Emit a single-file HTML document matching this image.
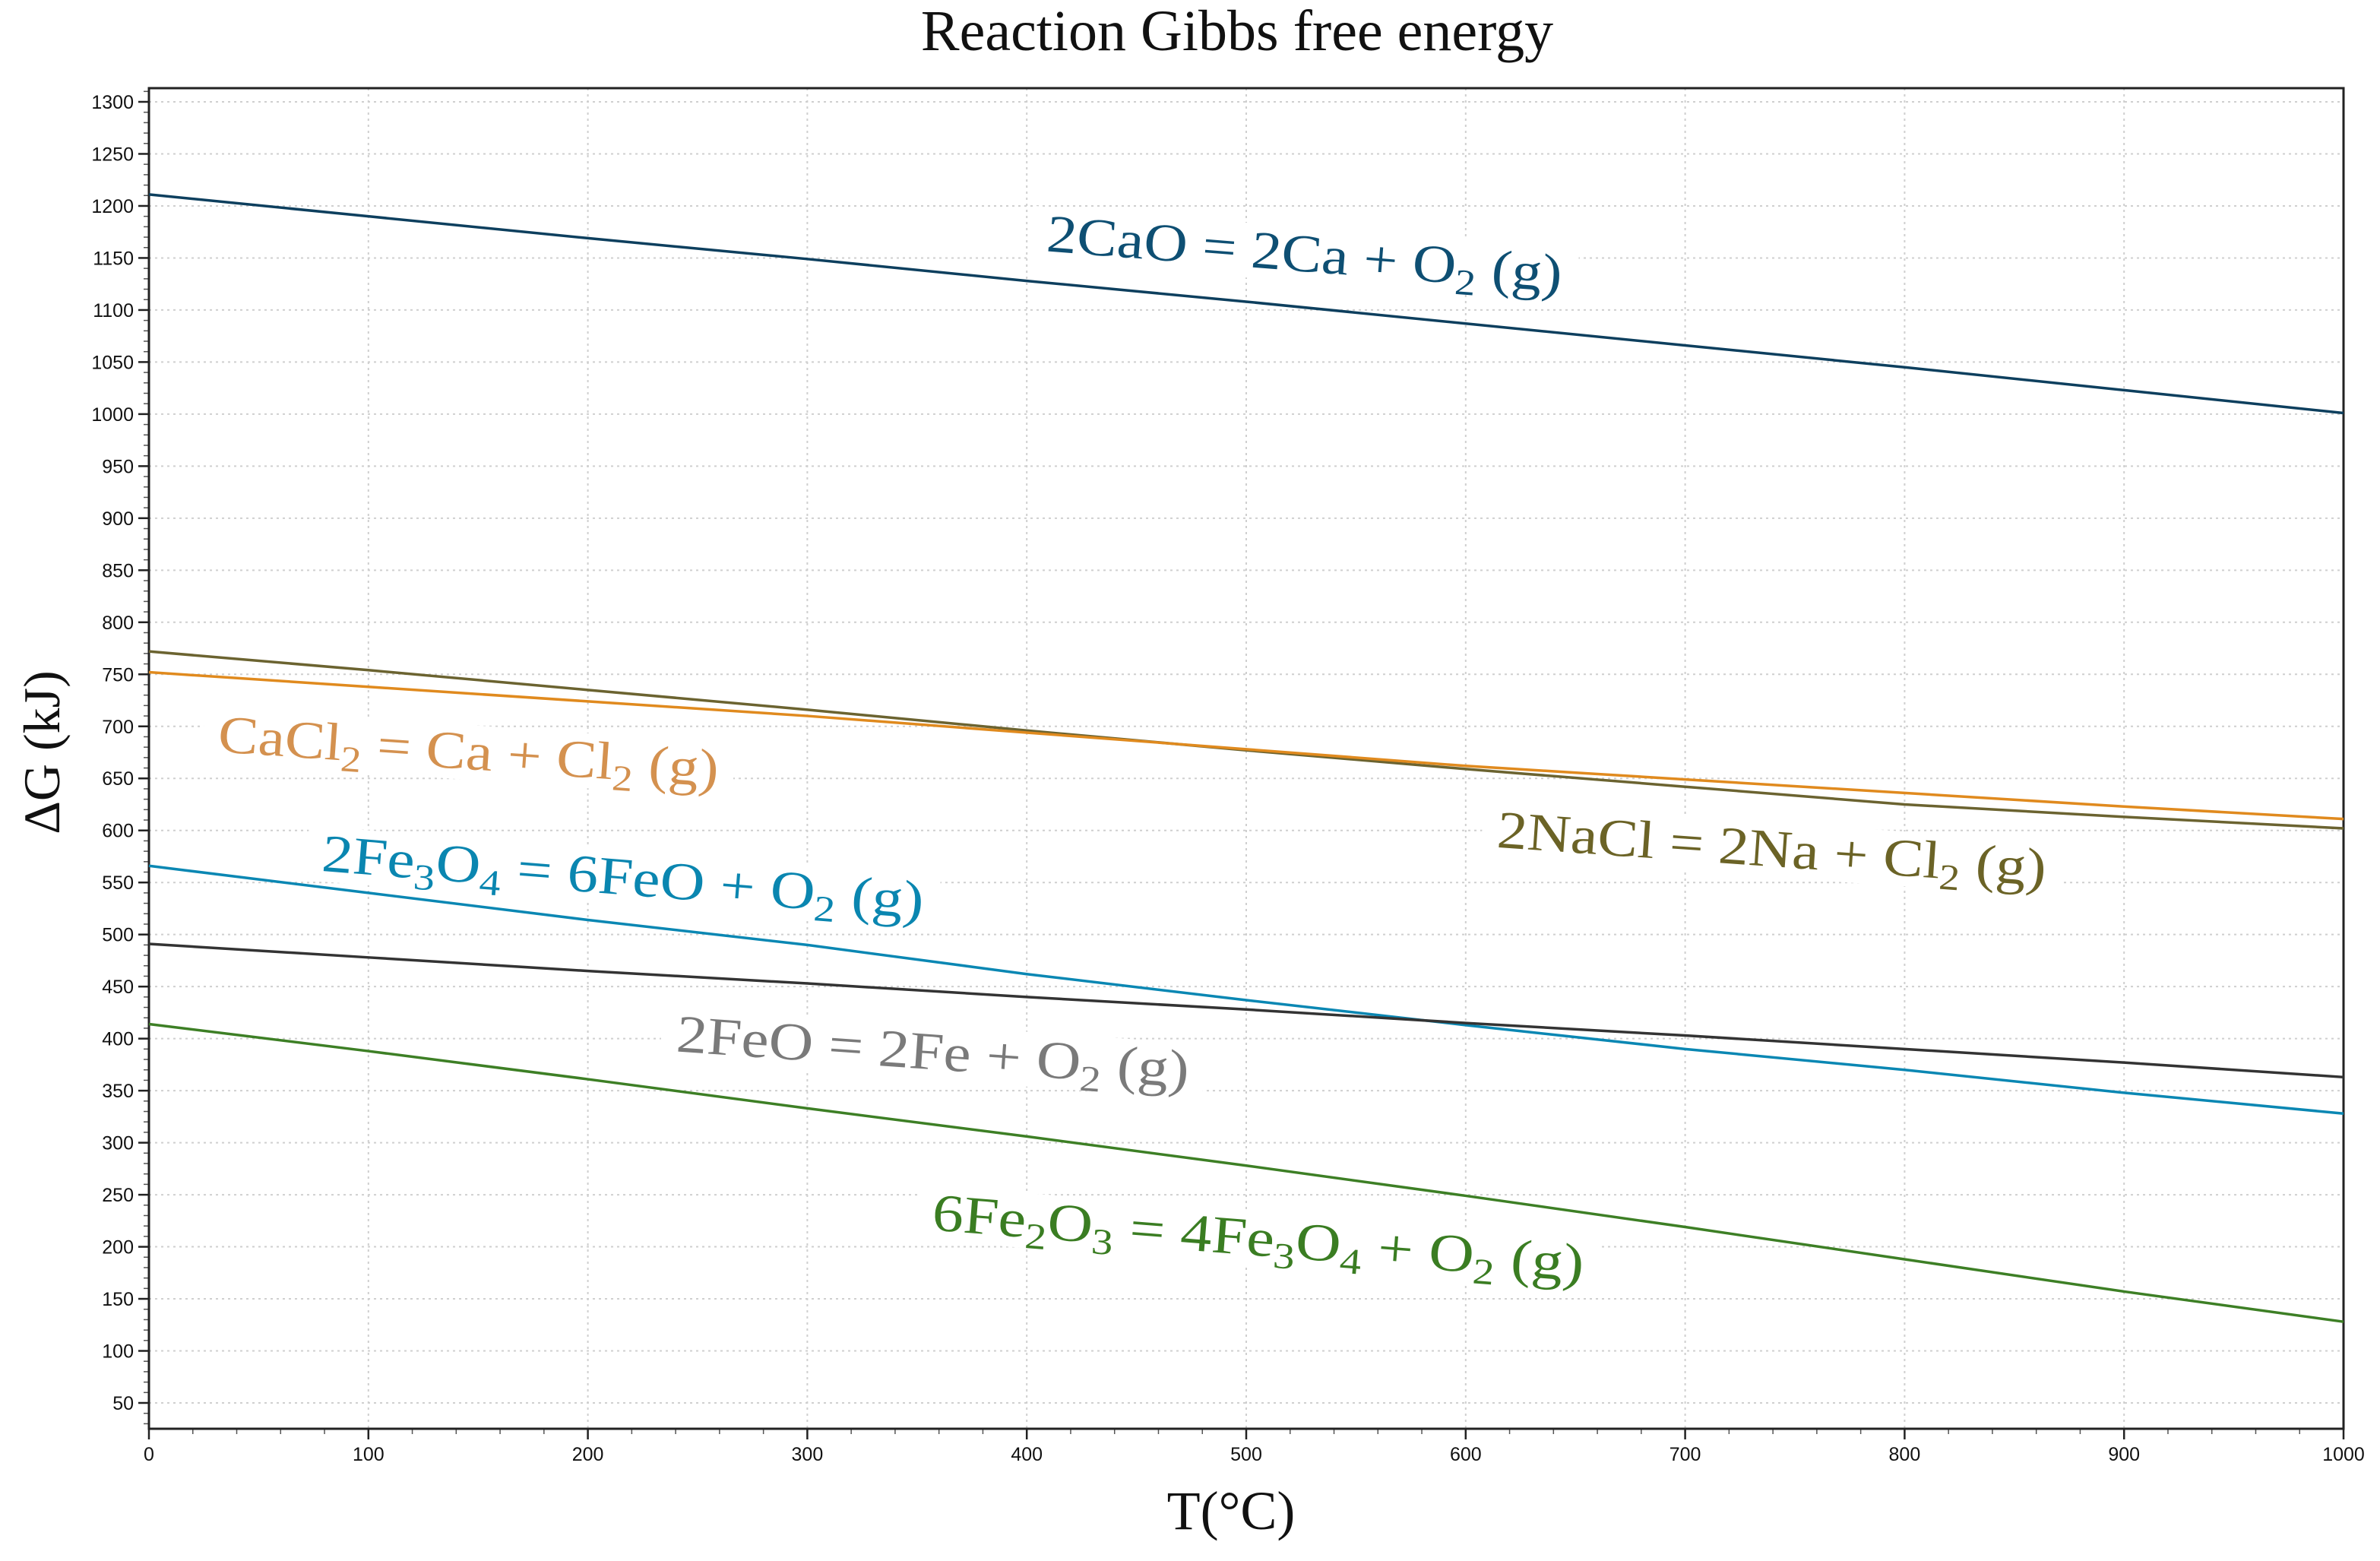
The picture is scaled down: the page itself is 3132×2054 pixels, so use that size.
<!DOCTYPE html>
<html><head><meta charset="utf-8"><style>
html,body{margin:0;padding:0;background:#fff;}
svg{display:block;}
text{font-family:"Liberation Serif",serif;}
.tick{font-family:"Liberation Sans",sans-serif;font-size:25px;fill:#111;}
</style></head><body>
<svg id="chart" width="3132" height="2054" viewBox="0 0 3132 2054" xmlns="http://www.w3.org/2000/svg">
<text x="1628" y="66" text-anchor="middle" font-size="76" fill="#111">Reaction Gibbs free energy</text>
<g id="grid"></g>
<g id="axes"></g>
<g id="labels"></g>
<g id="series"></g>
<text transform="translate(78,990) rotate(-90)" text-anchor="middle" font-size="68" fill="#111">ΔG (kJ)</text>
<text x="1620" y="2012" text-anchor="middle" font-size="72" fill="#111">T(°C)</text>
</svg>
<script>
const temps = [0,100,200,300,400,500,600,700,800,900,1000];
const caoValues = [1211,1190,1169,1149,1128,1108,1087,1066,1045,1023,1001];
const naclValues = [772,754,735,716,696,677,659,642,625,613,602];
const cacl2Values = [752,738,724,710,694,678,662,649,636,623,611];
const fe3o4Values = [566,540,514,490,462,437,413,390,370,348,328];
const feoValues = [491,478,465,453,440,428,415,403,390,377,363];
const fe2o3Values = [414,388,361,333,306,278,249,219,188,157,128];
const yTicks = [50,100,150,200,250,300,350,400,450,500,550,600,650,700,750,800,850,900,950,1000,1050,1100,1150,1200,1250,1300];
const xTicks = [0,100,200,300,400,500,600,700,800,900,1000];

const NS="http://www.w3.org/2000/svg";
const L=196,R=3084,T=116,B=1880;
function xs(v){return L+(v-0)*(R-L)/1000;}
function ys(v){return 134+(1300-v)*(1846-134)/1250;}
function mk(tag,attrs,parent){const e=document.createElementNS(NS,tag);for(const k in attrs)e.setAttribute(k,attrs[k]);parent.appendChild(e);return e;}
const grid=document.getElementById('grid'),axes=document.getElementById('axes'),series=document.getElementById('series'),labels=document.getElementById('labels');

yTicks.forEach(v=>{
  const g=mk('line',{x1:L,x2:R,y1:ys(v),y2:ys(v),stroke:'#cfcfcf','stroke-width':2,'stroke-dasharray':'3 5'},grid);
  
  
  const t=mk('line',{x1:L-14,x2:L,y1:ys(v),y2:ys(v),stroke:'#222','stroke-width':2.5},axes);
  
  
  const tx=mk('text',{x:L-20,y:ys(v)+9,'text-anchor':'end',class:'tick'},axes);
  tx.textContent=v;
  
  
});
for(let v=30;v<=1310;v+=10){ if(v%50===0)continue;
  const m=mk('line',{x1:L-7,x2:L,y1:ys(v),y2:ys(v),stroke:'#555','stroke-width':1.5},axes);
  
  
}
xTicks.forEach(v=>{
  const g=mk('line',{x1:xs(v),x2:xs(v),y1:T,y2:B,stroke:'#cfcfcf','stroke-width':2,'stroke-dasharray':'3 5'},grid);
  
  
  const t=mk('line',{x1:xs(v),x2:xs(v),y1:B,y2:B+14,stroke:'#222','stroke-width':2.5},axes);
  
  
  const tx=mk('text',{x:xs(v),y:B+42,'text-anchor':'middle',class:'tick'},axes);
  tx.textContent=v;
  
  
});
for(let v=20;v<1000;v+=20){ if(v%100===0)continue;
  const m=mk('line',{x1:xs(v),x2:xs(v),y1:B,y2:B+7,stroke:'#555','stroke-width':1.5},axes);
  
  
}
const frame=mk('rect',{x:L,y:T,width:R-L,height:B-T,fill:'none',stroke:'#222','stroke-width':3},axes);



const defs=[
 [caoValues,'#0d3f5e','line-cao'],
 [naclValues,'#6b6330','line-nacl'],
 [cacl2Values,'#e08a1e','line-cacl2'],
 [fe3o4Values,'#0a87b3','line-fe3o4'],
 [feoValues,'#333333','line-feo'],
 [fe2o3Values,'#3d7f25','line-fe2o3']
];
defs.forEach(d=>{
  const pts=temps.map((t,i)=>xs(t)+','+ys(d[0][i])).join(' ');
  const p=mk('polyline',{points:pts,fill:'none',stroke:d[1],'stroke-width':3.5},series);
  
  
});

const labs=[
 ['2CaO = 2Ca + O','2',' (g)',1715,357,4.5,680,'#0e4f73','label-cao'],
 ['CaCl','2',' = Ca + Cl','2',' (g)',615,1012,4,660,'#d4914f','label-cacl2'],
 ['2NaCl = 2Na + Cl','2',' (g)',2330,1140,4,724,'#6b6326','label-nacl'],
 ['2Fe','3','O','4',' = 6FeO + O','2',' (g)',818,1177,4.5,794,'#0a86b0','label-fe3o4'],
 ['2FeO = 2Fe + O','2',' (g)',1226,1407,4,676,'#7a7a7a','label-feo'],
 ['6Fe','2','O','3',' = 4Fe','3','O','4',' + O','2',' (g)',1654,1652,4.5,860,'#3a7d22','label-fe2o3']
];
labs.forEach(a=>{
  const n=a.length;
  const parts=a.slice(0,n-6),cx=a[n-6],cy=a[n-5],rot=a[n-4],w=a[n-3],col=a[n-2],name=a[n-1];
  const g=mk('g',{transform:`translate(${cx},${cy}) rotate(${rot})`},labels);
  
  
  const bg=mk('rect',{x:-w/2-20,y:-58,width:w+40,height:72,fill:'#fff'},g);
  
  
  const t=mk('text',{x:-w/2,y:0,'font-size':70,fill:col,textLength:w,lengthAdjust:'spacingAndGlyphs'},g);
  
  
  parts.forEach((s,i)=>{
    const sub=(i%2===1);
    const ts=mk('tspan',sub?{'font-size':48,dy:14}:(i>0?{dy:-14}:{}),t);
    ts.textContent=s;
  });
});
</script>
</body></html>
